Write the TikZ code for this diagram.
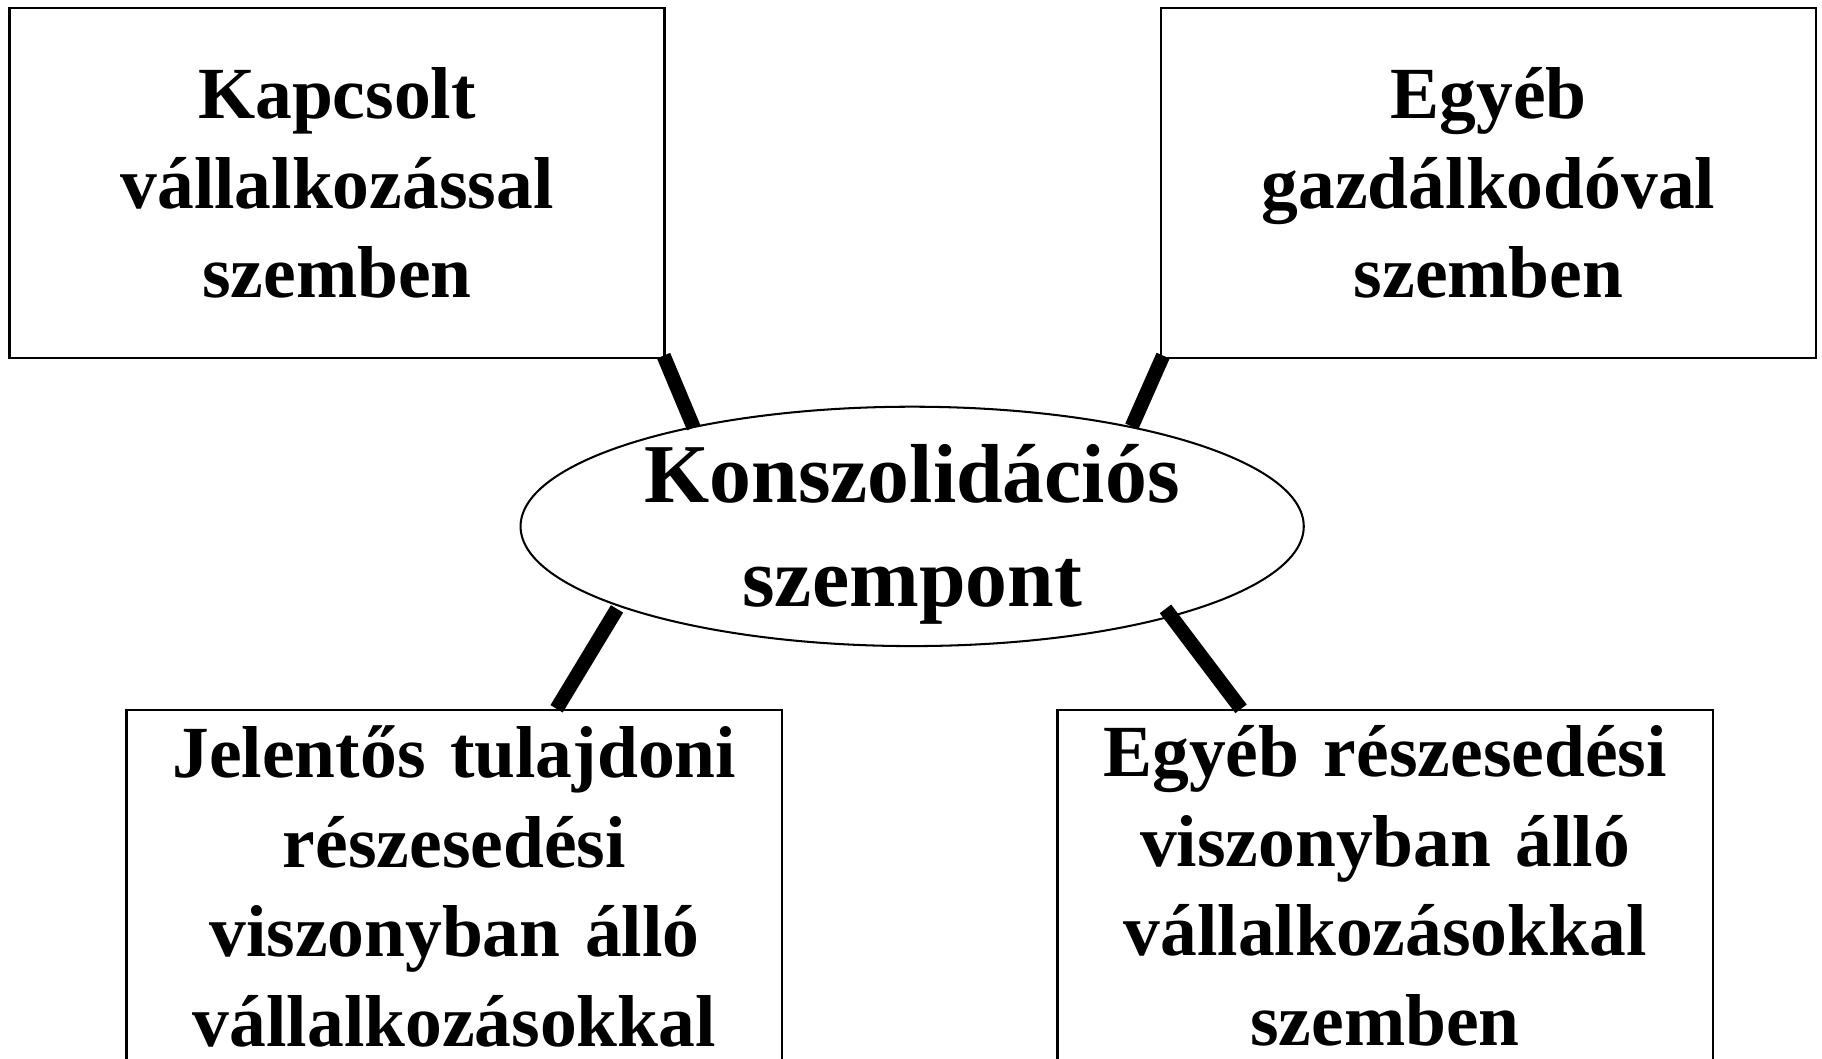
\documentclass[tikz,border=0pt]{standalone}
\usepackage{fontspec}
\setmainfont{Liberation Serif}
\usetikzlibrary{calc, positioning, shapes.geometric}

\newcommand{\boxfont}{\bfseries\fontsize{18}{21.9}\selectfont}
\newcommand{\hubfont}{\bfseries\fontsize{20.5}{25.5}\selectfont}

\tikzset{
  ctxbox/.style={draw, line width=0.6pt, text width=5.64cm, align=center,
                 inner sep=0pt, font=\boxfont},
  ctxframe/.style={draw, line width=0.6pt, minimum width=5.64cm,
                   minimum height=4cm, inner sep=0pt, anchor=north},
  ctxtext/.style={text width=5.64cm, align=center, inner sep=0pt,
                  font=\boxfont, anchor=north},
  hub/.style={draw, ellipse, line width=0.5pt, minimum width=6.74cm,
              minimum height=2.06cm, inner sep=0pt},
  hubtext/.style={align=center, inner sep=0pt, font=\hubfont},
  link/.style={line width=3.5pt}
}

\begin{document}
\begin{tikzpicture}
\clip (0,0) rectangle (15.68,9.11);
% Center
\node[hub] (hub) at (7.85,4.58) {};
\node[hubtext] (hubt) at ([yshift=-0.07cm]hub.center) {Konszolid\'aci\'os\\szempont};
% Upper boxes
\node[ctxbox, minimum height=3.01cm] (kap) at (2.90,7.535)
  {Kapcsolt\\v\'allalkoz\'assal\\szemben};
\node[ctxbox, minimum height=3.01cm] (egy) at (12.81,7.535)
  {Egy\'eb\\gazd\'alkod\'oval\\szemben};
% Lower boxes
\node[ctxframe] (jel) at (3.91,3.01) {};
\node[ctxtext] (jeltext) at ([yshift=-0.14cm]jel.north)
  {Jelent\H{o}s tulajdoni\\r\'eszesed\'esi\\viszonyban \'all\'o\\v\'allalkoz\'asokkal};
\node[ctxframe] (egyr) at (11.92,3.01) {};
\node[ctxtext] (egyrtext) at ([yshift=-0.14cm]egyr.north)
  {Egy\'eb r\'eszesed\'esi\\viszonyban \'all\'o\\v\'allalkoz\'asokkal\\szemben};
% Links
\draw[link] ([xshift=-0.02cm,yshift=0.03cm]kap.south east) -- ($(hub.center)+(-1.88,0.85)$);
\draw[link] ([xshift=0.03cm,yshift=0.03cm]egy.south west) -- ($(hub.center)+(1.89,0.86)$);
\draw[link] ($(hub.center)+(-2.54,-0.71)$) -- ([xshift=0.88cm]jel.north);
\draw[link] ($(hub.center)+(2.18,-0.71)$) -- ([xshift=-1.24cm]egyr.north);
\end{tikzpicture}
\end{document}
